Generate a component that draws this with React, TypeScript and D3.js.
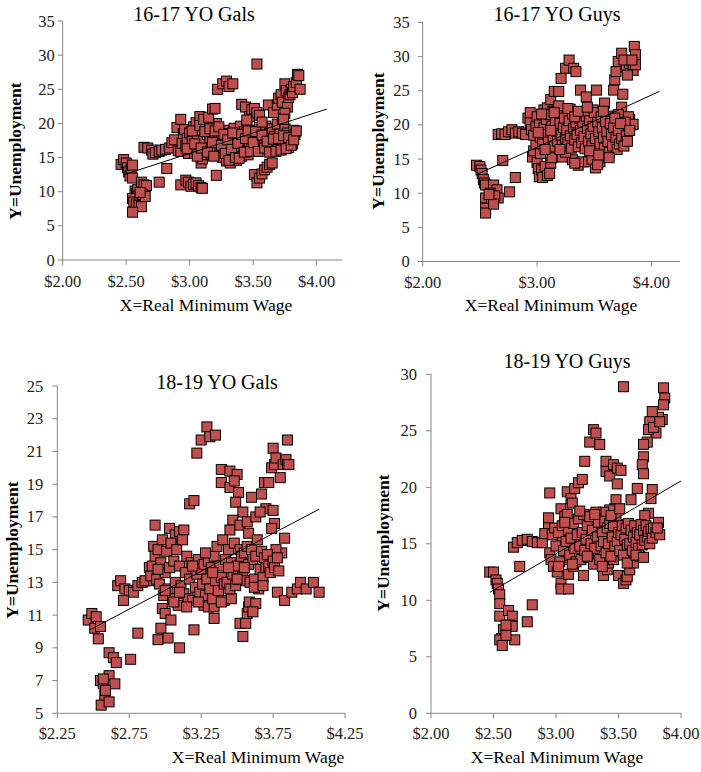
import React from 'react';
import * as d3 from 'd3';

type Pt = [number, number];

// ---------- DATA ----------
const gals1617: Pt[] = [
  [2.46,14.0],[2.48,14.7],[2.50,14.2],[2.51,13.5],[2.52,12.9],[2.53,12.3],[2.54,13.3],[2.55,12.0],[2.55,13.9],
  [2.57,10.1],[2.58,9.7],[2.59,10.3],[2.60,9.4],[2.55,9.0],[2.56,8.5],[2.58,8.2],[2.60,8.0],[2.62,7.8],[2.55,7.0],[2.62,11.4],[2.64,11.0],[2.66,10.9],[2.63,9.6],[2.65,9.3],[2.61,9.9],
  [2.76,11.4],[2.82,13.4],
  [2.64,16.5],[2.67,16.4],[2.70,16.1],[2.71,15.5],[2.73,15.7],[2.76,15.9],[2.78,16.1],[2.81,16.2],[2.84,16.4],[2.86,17.2],[2.88,17.6],[2.90,19.4],[2.93,20.6],[2.91,16.0],[2.93,15.9],[2.94,17.1],[2.95,18.5],[2.96,19.1],[2.97,16.7],[2.98,17.8],[2.99,15.6],
  [2.93,11.0],[2.97,11.7],[2.99,11.4],[3.01,10.8],[3.03,11.1],[3.05,11.3],[3.07,10.9],[3.09,10.6],[3.10,10.5],
  [3.00,18.6],[3.01,16.2],[3.02,17.4],[3.03,19.5],[3.04,15.6],[3.05,20.1],[3.06,18.0],[3.07,16.9],[3.08,21.0],[3.09,14.2],[3.10,14.8],[3.10,19.0],[3.11,17.4],[3.12,15.4],[3.13,20.4],[3.14,18.4],[3.15,16.3],[3.16,17.9],[3.17,15.5],[3.18,19.6],[3.19,18.3],[3.20,16.8],[3.21,20.0],[3.21,12.4],[3.22,15.9],[3.23,17.5],[3.24,16.2],[3.25,18.1],[3.26,15.0],[3.27,17.0],[3.28,19.0],[3.29,14.5],[3.30,16.5],[3.31,18.5],[3.32,14.2],[3.33,17.7],[3.34,15.6],[3.35,19.3],[3.36,16.9],[3.37,14.6],[3.38,18.3],[3.39,16.2],[3.40,19.6],[3.41,15.2],[3.42,17.4],[3.43,18.8],[3.44,16.0],[3.45,19.8],[3.46,15.4],[3.47,17.2],[3.48,18.5],[3.49,16.4],[3.50,19.0],[3.51,17.8],[3.52,16.6],[3.53,18.2],[3.54,17.0],[3.55,19.4],[3.56,16.8],[3.57,17.6],[3.58,18.9],[3.59,17.3],[3.60,19.6],[3.61,18.0],[3.62,16.9],[3.63,18.6],[3.64,17.5],[3.65,19.2],[3.66,16.4],[3.67,18.1],[3.68,17.0],[3.69,19.9],[3.70,16.2],[3.71,18.4],[3.72,17.3],[3.73,20.6],[3.74,16.8],[3.75,19.2],[3.76,17.7],[3.77,18.6],[3.78,16.5],[3.79,17.4],[3.80,18.2],[3.81,17.0],[3.82,19.0],[3.83,18.4],
  [2.98,16.3],[3.02,18.9],[3.04,17.0],[3.06,15.2],[3.08,19.7],[3.09,16.4],[3.11,20.6],[3.12,18.8],[3.14,15.8],[3.15,20.9],[3.16,19.2],[3.18,17.2],[3.19,15.2],[3.20,18.9],[3.23,19.5],[3.25,16.8],[3.27,18.4],[3.28,15.6],[3.30,17.6],[3.31,14.6],[3.33,16.2],[3.34,18.6],[3.36,15.0],[3.38,17.1],[3.39,14.9],[3.41,18.4],[3.43,15.8],[3.44,17.8],[3.46,18.9],[3.48,15.9],[3.50,17.2],[3.52,18.8],[3.54,15.9],[3.57,18.3],[3.59,16.4],[3.61,17.4],[3.63,15.8],[3.66,17.7],[3.68,15.9],[3.70,17.8],[3.72,16.1],[3.74,18.2],[3.76,16.3],[3.78,17.9],[3.80,16.8],[3.82,17.6],[3.84,18.9],
  [3.18,22.1],[3.20,22.2],[3.22,25.0],[3.26,25.8],[3.29,26.2],[3.31,25.4],[3.34,25.8],[3.53,28.7],[3.41,22.8],[3.44,22.4],[3.47,21.0],[3.49,22.0],[3.51,22.2],[3.53,21.6],[3.55,21.2],[3.62,22.7],[3.66,21.6],[3.69,22.7],[3.70,23.7],[3.72,24.2],[3.73,23.1],[3.75,25.8],[3.76,24.8],[3.77,22.4],[3.78,23.8],[3.79,24.2],[3.80,25.0],[3.81,24.5],[3.82,25.4],[3.84,26.0],[3.85,27.2],[3.86,27.0],[3.87,25.0],[3.75,21.5],[3.74,20.6],[3.45,20.5],[3.57,20.2],
  [3.51,12.5],[3.53,11.3],[3.55,12.0],[3.57,12.6],[3.59,13.2],[3.61,13.6],[3.63,14.0],[3.65,14.2],
];

const guys1617: Pt[] = [
  [2.47,14.1],[2.50,13.9],[2.51,13.4],[2.52,12.9],[2.53,12.0],[2.54,11.5],[2.55,11.2],[2.62,11.2],[2.65,10.5],[2.59,10.0],[2.57,9.0],[2.55,9.3],[2.66,9.3],[2.60,8.5],[2.63,9.6],[2.55,7.8],[2.55,7.1],[2.62,8.4],[2.58,9.8],
  [2.70,14.8],[2.76,10.2],[2.81,12.3],
  [2.66,18.6],[2.69,18.7],[2.72,18.6],[2.75,19.0],[2.78,19.3],[2.81,18.8],[2.84,19.0],[2.87,18.8],[2.90,18.6],[2.92,21.0],[2.94,21.8],[2.94,20.3],[2.95,19.3],
  [2.96,15.3],[2.97,16.2],[2.99,17.1],[3.00,14.5],[3.01,13.6],[3.02,12.4],[3.04,13.4],[3.05,12.3],[3.07,13.9],[3.09,12.6],[3.11,12.9],[3.12,14.4],[3.13,15.2],[3.03,15.8],
  [3.06,22.2],[3.09,22.5],[3.12,23.7],[3.15,24.9],[3.19,24.9],[3.21,26.8],[3.25,28.3],[3.28,29.5],[3.32,28.3],[3.34,27.8],
  [3.26,21.8],[3.29,22.3],[3.38,25.1],[3.43,24.1],[3.52,25.1],[3.49,22.2],[3.59,23.2],[3.62,21.3],[3.14,22.0],[3.18,21.5],
  [3.31,14.9],[3.36,14.1],[3.40,14.6],[3.45,14.6],[3.51,13.7],[3.55,14.6],[3.57,15.6],[3.60,16.8],[3.65,17.8],[3.68,17.5],[3.33,14.4],[3.48,15.0],[3.53,14.2],[3.22,15.3],[3.25,16.0],
  [3.67,25.1],[3.68,26.6],[3.69,27.8],[3.71,29.3],[3.74,30.5],[3.78,28.5],[3.81,29.0],[3.84,28.0],[3.85,31.5],[3.86,30.3],[3.86,28.8],[3.79,27.3],[3.75,24.5],[3.74,22.6],[3.71,21.5],[3.76,29.5],[3.83,29.5],
  [3.81,20.8],[3.83,20.0],[3.78,19.6],[3.75,18.3],[3.73,19.0],[3.80,21.2],[3.84,20.1],[3.77,20.4],
  [2.97,18.5],[2.99,19.8],[3.00,21.2],[3.02,20.0],[3.03,18.2],[3.05,17.2],[3.06,19.6],[3.08,20.8],[3.09,18.6],[3.10,17.5],[3.11,21.5],[3.13,19.8],[3.14,18.0],[3.15,16.8],[3.16,20.6],[3.17,19.0],[3.18,17.6],[3.19,22.8],[3.20,20.2],[3.21,18.5],[3.22,17.0],[3.23,19.6],[3.24,21.0],[3.25,18.0],[3.26,19.3],[3.27,17.4],[3.28,20.6],[3.29,18.4],[3.30,16.6],[3.31,21.6],[3.32,19.5],[3.33,17.8],[3.34,20.3],[3.35,18.6],[3.36,16.8],[3.37,21.0],[3.38,19.2],[3.39,17.4],[3.40,20.4],[3.41,18.3],[3.42,16.5],[3.43,21.3],[3.44,19.5],[3.45,17.6],[3.46,20.6],[3.47,18.7],[3.48,16.9],[3.49,19.8],[3.50,21.8],[3.51,18.0],[3.52,16.2],[3.53,20.4],[3.54,19.0],[3.55,17.3],[3.56,21.2],[3.57,19.6],[3.58,18.2],[3.59,16.6],[3.60,20.5],[3.61,19.0],[3.62,17.6],[3.63,16.0],[3.64,20.2],[3.65,18.6],[3.66,16.9],[3.67,19.6],[3.68,21.0],[3.69,18.2],[3.70,16.4],[3.71,19.2],[3.72,17.2],[3.73,20.2],[3.74,18.0],[3.76,16.9],[3.78,18.4],[3.79,17.6],[3.81,19.2],
  [3.01,18.9],[3.04,21.6],[3.07,16.4],[3.12,19.2],[3.15,21.8],[3.20,16.4],[3.27,22.4],[3.33,21.2],[3.36,22.0],[3.44,22.6],[3.46,16.2],[3.54,15.6],[3.58,22.0],[3.63,15.2],
];

const gals1819: Pt[] = [
  [2.465,10.7],[2.49,11.1],[2.52,10.9],[2.51,10.2],[2.55,10.3],[2.535,9.55],[2.61,8.7],[2.64,8.4],[2.66,8.1],[2.55,7.0],[2.57,6.8],[2.61,7.3],[2.65,6.8],[2.58,6.1],[2.555,5.5],[2.61,5.7],[2.585,6.4],[2.57,7.1],
  [2.76,8.3],[2.81,9.9],[2.71,11.9],
  [2.67,12.8],[2.69,13.1],[2.72,12.6],[2.75,12.5],[2.78,12.4],[2.81,12.8],[2.84,13.0],[2.86,13.1],[2.89,13.9],[2.92,13.1],[2.93,16.5],[2.92,15.2],
  [2.95,9.5],[2.97,10.2],[2.98,11.4],[3.00,11.1],[3.02,9.6],[3.04,10.7],[3.10,9.0],[3.20,10.1],
  [3.03,16.3],[3.05,15.2],[3.07,15.9],[3.10,16.1],[3.13,16.2],[3.17,17.8],[3.20,18.0],[3.22,20.9],[3.25,21.7],[3.29,22.5],[3.31,21.9],[3.35,22.0],
  [3.39,19.9],[3.45,19.8],[3.50,19.6],[3.39,19.1],[3.45,18.8],[3.48,19.2],[3.51,18.5],[3.49,17.9],[3.54,17.3],[3.60,18.2],[3.67,18.4],[3.69,19.1],[3.72,19.1],[3.70,17.5],[3.75,17.4],[3.74,20.0],[3.76,20.2],[3.75,21.2],[3.77,20.6],[3.80,19.4],[3.82,20.2],[3.84,20.5],[3.85,20.2],[3.85,21.7],[3.86,20.2],[3.83,15.7],[3.81,14.8],[3.77,15.0],[3.76,16.6],[3.74,16.3],[3.47,16.8],[3.45,16.2],[3.52,16.5],[3.57,16.7],[3.58,16.0],[3.63,17.0],[3.66,17.3],
  [3.78,12.4],[3.83,11.9],[3.88,12.4],[3.92,12.6],[3.94,13.0],[3.98,12.6],[4.03,13.0],[4.07,12.4],
  [3.52,10.5],[3.54,9.7],[3.56,10.5],[3.57,11.1],[3.58,11.5],[3.585,11.8],[3.63,11.7],[3.61,11.2],
  [3.27,11.6],[3.30,11.5],[3.34,11.5],[3.34,10.8],[3.36,12.1],[3.41,11.9],[3.46,12.0],
  [2.90,13.4],[2.91,14.0],[2.93,14.6],[2.94,13.2],[2.95,15.0],[2.96,12.9],[2.97,14.2],[2.98,15.6],[2.99,12.2],[3.00,13.6],[3.01,14.9],[3.02,12.6],[3.03,13.9],[3.04,15.4],[3.05,12.0],[3.06,14.3],[3.07,13.0],[3.08,15.0],[3.09,11.6],[3.10,14.0],[3.11,12.8],[3.12,15.6],[3.13,12.3],[3.14,13.6],[3.15,14.6],[3.16,12.0],[3.17,13.2],[3.18,14.2],[3.19,11.9],[3.20,14.0],[3.21,12.7],[3.22,13.5],[3.23,14.4],[3.24,12.4],[3.25,13.8],[3.26,12.9],[3.27,14.1],[3.28,12.2],[3.29,13.2],[3.30,14.3],[3.31,12.6],[3.32,13.9],[3.33,12.0],[3.34,14.6],[3.35,13.1],[3.36,15.2],[3.37,12.5],[3.38,14.0],[3.39,13.3],[3.40,15.6],[3.41,12.9],[3.42,14.4],[3.43,13.0],[3.44,15.0],[3.45,12.6],[3.46,14.2],[3.47,13.5],[3.48,15.4],[3.49,12.8],[3.50,14.0],[3.51,13.2],[3.52,15.0],[3.53,14.6],[3.54,13.4],[3.55,14.8],[3.56,13.1],[3.57,15.2],[3.58,14.1],[3.59,13.0],[3.60,15.0],[3.61,14.4],[3.62,13.2],[3.63,14.6],[3.64,15.6],[3.65,12.6],[3.66,13.8],[3.67,14.9],[3.68,13.3],[3.69,14.5],[3.70,13.9],[3.71,14.7],[3.72,14.0],[3.73,13.6],[3.75,14.3],[3.76,13.9],[3.78,14.5],[3.79,13.7],
  [2.95,13.8],[3.00,12.5],[3.06,11.8],[3.10,12.4],[3.15,11.5],[3.19,14.0],[3.23,11.8],[3.28,14.8],[3.33,13.6],[3.39,11.8],[3.44,13.9],[3.50,13.2],[3.55,13.9],[3.62,12.7],[3.68,12.8],
];

const guys1819: Pt[] = [
  [2.47,12.5],[2.50,12.5],[2.52,11.8],[2.53,11.5],[2.54,11.0],[2.55,10.5],[2.55,9.7],[2.55,8.6],[2.62,9.1],[2.65,8.6],[2.63,7.8],[2.65,7.7],[2.58,7.4],[2.565,6.6],[2.55,6.5],[2.57,6.0],[2.67,6.5],[2.60,6.9],[2.60,7.8],
  [2.66,14.7],[2.71,13.0],[2.77,8.1],[2.81,9.6],
  [2.69,15.1],[2.73,15.3],[2.77,15.4],[2.81,15.2],[2.85,15.1],[2.89,15.1],[2.91,15.9],[2.94,16.8],[2.94,17.3],[2.95,19.5],[2.95,14.2],[2.96,13.6],[2.98,13.0],[3.01,12.5],[3.04,11.5],[3.04,11.0],[3.10,11.0],[3.10,12.3],[3.08,13.6],[3.14,13.0],[3.05,15.3],
  [3.04,18.1],[3.07,17.4],[3.09,17.6],[3.09,19.6],[3.12,19.0],[3.15,19.9],[3.18,20.4],[3.21,20.7],[3.23,22.3],[3.22,12.2],[3.27,24.0],[3.30,25.1],[3.32,24.8],[3.35,23.8],[3.13,18.6],
  [3.40,22.3],[3.40,21.4],[3.43,21.0],[3.46,22.0],[3.49,21.7],[3.52,21.5],[3.49,20.3],[3.48,18.9],[3.47,18.1],[3.43,18.0],[3.38,17.8],[3.54,16.7],
  [3.54,28.9],[3.86,28.8],[3.87,27.9],[3.86,27.3],[3.85,26.0],[3.82,26.2],[3.80,24.8],[3.77,26.7],[3.75,25.8],[3.74,25.1],[3.73,24.0],[3.70,23.8],[3.70,22.7],[3.69,22.0],[3.70,21.2],[3.65,19.9],[3.60,18.9],[3.77,19.8],[3.76,19.0],[3.74,17.7],[3.71,17.5],[3.78,25.3],[3.83,25.8],
  [3.50,12.2],[3.54,11.5],[3.56,11.8],[3.57,12.1],[3.59,12.7],[3.62,13.3],[3.63,14.0],[3.67,13.9],[3.38,12.2],[3.41,12.7],[3.42,13.3],[3.46,13.6],[3.48,14.3],[3.43,14.2],
  [2.97,15.8],[2.99,16.4],[3.00,14.8],[3.02,16.0],[3.03,13.4],[3.05,16.6],[3.06,14.4],[3.08,15.2],[3.10,16.2],[3.11,14.0],[3.12,15.5],[3.14,16.8],[3.15,14.6],[3.16,13.4],[3.17,15.8],[3.18,17.2],[3.19,14.8],[3.20,13.6],[3.21,16.0],[3.22,17.6],[3.23,14.4],[3.24,15.4],[3.25,16.6],[3.26,13.8],[3.27,17.4],[3.28,15.0],[3.29,16.2],[3.30,13.2],[3.31,14.6],[3.32,17.8],[3.33,15.6],[3.34,16.9],[3.35,13.6],[3.36,14.8],[3.37,16.0],[3.38,15.2],[3.39,17.0],[3.40,14.2],[3.41,16.4],[3.42,15.0],[3.43,16.8],[3.44,13.9],[3.45,15.6],[3.46,16.6],[3.47,14.8],[3.48,17.4],[3.49,15.2],[3.50,16.0],[3.51,14.4],[3.52,15.8],[3.53,16.6],[3.54,14.0],[3.55,15.4],[3.56,16.4],[3.57,14.9],[3.58,16.8],[3.59,15.0],[3.60,16.2],[3.61,14.4],[3.62,15.6],[3.63,16.6],[3.64,15.1],[3.65,16.0],[3.66,14.6],[3.67,15.8],[3.68,16.7],[3.69,14.9],[3.70,16.2],[3.71,15.3],[3.72,16.6],[3.73,15.6],[3.74,16.1],[3.75,15.0],[3.76,16.3],[3.77,15.5],[3.78,16.4],[3.80,16.0],[3.82,16.9],[3.83,15.8],[3.81,16.4],
  [3.02,13.0],[3.07,16.9],[3.13,13.2],[3.19,17.9],[3.25,13.9],[3.31,17.6],[3.37,13.0],[3.44,17.5],[3.51,18.1],[3.57,13.3],[3.64,14.0],[3.70,13.8],
];

// trend lines: [x0, y0, x1, y1]
const trendGals1617 = [2.475, 12.45, 4.08, 22.1];
const trendGuys1617 = [2.48, 12.8, 4.07, 24.9];
const trendGals1819 = [2.477, 10.1, 4.07, 17.47];
const trendGuys1819 = [2.47, 10.7, 4.0, 20.56];

const xTicks1617Gals = [2.0, 2.5, 3.0, 3.5, 4.0];
const xTicks1617Guys = [2.0, 3.0, 4.0];
const xTicks1819Gals = [2.25, 2.75, 3.25, 3.75, 4.25];
const xTicks1819Guys = [2.0, 2.5, 3.0, 3.5, 4.0];
const yTicks1617 = [0, 5, 10, 15, 20, 25, 30, 35];
const yTicks1819Gals = [5, 7, 9, 11, 13, 15, 17, 19, 21, 23, 25];
const yTicks1819Guys = [0, 5, 10, 15, 20, 25, 30];

const titles = ['16-17 YO Gals', '16-17 YO Guys', '18-19 YO Gals', '18-19 YO Guys'];
const xLabel = 'X=Real Minimum Wage';
const yLabel = 'Y=Unemployment';

// ---------- LAYOUT ----------
type Panel = {
  title: string; data: Pt[]; trend: number[];
  xDomain: [number, number]; yDomain: [number, number];
  xTicks: number[]; yTicks: number[];
  left: number; right: number; top: number; bottom: number;
  titleX: number; titleY: number; xLabX: number; xLabY: number; yLabX: number; yLabY: number;
  yTickGap: number; xTickOff: number;
};

const panels: Panel[] = [
  { title: titles[0], data: gals1617, trend: trendGals1617, xDomain: [2, 4.2], yDomain: [0, 35], xTicks: xTicks1617Gals, yTicks: yTicks1617,
    left: 62.7, right: 342, top: 21, bottom: 260, titleX: 194, titleY: 21, xLabX: 206, xLabY: 311, yLabX: 15, yLabY: 151, yTickGap: 8, xTickOff: 21 },
  { title: titles[1], data: guys1617, trend: trendGuys1617, xDomain: [2, 4.25], yDomain: [0, 35], xTicks: xTicks1617Guys, yTicks: yTicks1617,
    left: 422.7, right: 680, top: 22.5, bottom: 261.5, titleX: 557, titleY: 21, xLabX: 551, xLabY: 311, yLabX: 378, yLabY: 141, yTickGap: 13, xTickOff: 21 },
  { title: titles[2], data: gals1819, trend: trendGals1819, xDomain: [2.25, 4.25], yDomain: [5, 25], xTicks: xTicks1819Gals, yTicks: yTicks1819Gals,
    left: 57.3, right: 345, top: 386, bottom: 713.3, titleX: 217, titleY: 389, xLabX: 258, xLabY: 763, yLabX: 12, yLabY: 550, yTickGap: 14, xTickOff: 20 },
  { title: titles[3], data: guys1819, trend: trendGuys1819, xDomain: [2, 4], yDomain: [0, 30], xTicks: xTicks1819Guys, yTicks: yTicks1819Guys,
    left: 431, right: 681, top: 374.3, bottom: 713.3, titleX: 567, titleY: 368, xLabX: 557, xLabY: 763, yLabX: 383, yLabY: 543, yTickGap: 14, xTickOff: 20 },
];

const FONT = "'Liberation Serif', 'DejaVu Serif', serif";
const AXIS = '#868686';
const MARK = 10;

const fmtX = d3.format('$.2f');

function PanelView({ p }: { p: Panel }) {
  const x = d3.scaleLinear().domain(p.xDomain).range([p.left, p.right]);
  const y = d3.scaleLinear().domain(p.yDomain).range([p.bottom, p.top]);
  const tf = { fontFamily: FONT };
  return (
    <g>
      <line x1={p.left} x2={p.left} y1={y(p.yDomain[1])} y2={p.bottom} stroke={AXIS} strokeWidth={1} />
      <line x1={p.left} x2={p.right} y1={p.bottom} y2={p.bottom} stroke={AXIS} strokeWidth={1} />
      {p.yTicks.map((t) => (
        <g key={'y' + t}>
          <line x1={p.left - 5} x2={p.left} y1={y(t)} y2={y(t)} stroke={AXIS} strokeWidth={1} />
          <text x={p.left - p.yTickGap} y={y(t)} textAnchor="end" dominantBaseline="central" fontSize={16.5} style={tf} fill="#222">{t}</text>
        </g>
      ))}
      {p.xTicks.map((t) => (
        <g key={'x' + t}>
          <line x1={x(t)} x2={x(t)} y1={p.bottom} y2={p.bottom + 5} stroke={AXIS} strokeWidth={1} />
          <text x={x(t)} y={p.bottom + p.xTickOff} textAnchor="middle" dominantBaseline="central" fontSize={16.5} style={tf} fill="#222">{fmtX(t)}</text>
        </g>
      ))}
      {p.data.map((d, i) => (
        <rect key={i} x={x(d[0]) - MARK / 2} y={y(d[1]) - MARK / 2} width={MARK} height={MARK}
          fill="#c0504d" stroke="#000" strokeWidth={1} />
      ))}
      <line x1={x(p.trend[0])} y1={y(p.trend[1])} x2={x(p.trend[2])} y2={y(p.trend[3])} stroke="#000" strokeWidth={1} />
      <text x={p.titleX} y={p.titleY} textAnchor="middle" fontSize={20} style={tf} fill="#000">{p.title}</text>
      <text x={p.xLabX} y={p.xLabY} textAnchor="middle" fontSize={17.5} style={tf} fill="#000">{xLabel}</text>
      <text transform={`translate(${p.yLabX},${p.yLabY}) rotate(-90)`} textAnchor="middle" dominantBaseline="central"
        fontSize={17.5} fontWeight="bold" style={tf} fill="#000">{yLabel}</text>
    </g>
  );
}

export default function App() {
  return (
    <svg width={701} height={772} style={{ position: 'absolute', left: 0, top: 0, background: '#fff' }}>
      <rect x={0} y={0} width={701} height={772} fill="#fff" />
      {panels.map((p) => <PanelView key={p.title} p={p} />)}
    </svg>
  );
}
